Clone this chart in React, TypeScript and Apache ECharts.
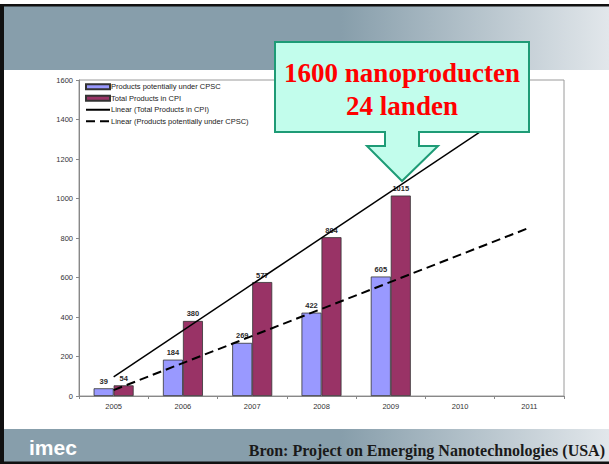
import React, { useEffect, useRef } from "react";
import * as echarts from "echarts";

const years = ["2005", "2006", "2007", "2008", "2009", "2010", "2011"];
const cpscValues = [39, 184, 269, 422, 605, null, null];
const cpiValues = [54, 380, 577, 804, 1015, null, null];
// trend line end points (2005 and 2011)
const trendCpi: [string, number][] = [["2005", 97], ["2011", 1504]];
const trendCpsc: [string, number][] = [["2005", 30], ["2011", 852]];
const yTicks = { min: 0, max: 1600, interval: 200 };
const legendNames = [
  "Products potentially under CPSC",
  "Total Products in CPI",
  "Linear (Total Products in CPI)",
  "Linear (Products potentially under CPSC)",
];
const calloutLines = ["1600 nanoproducten", "24 landen"];
const footerText = "Bron: Project on Emerging Nanotechnologies (USA)";

export default function App() {
  const ref = useRef<HTMLDivElement>(null);
  useEffect(() => {
    if (!ref.current) return;
    const chart = echarts.init(ref.current, null, { renderer: "svg" });
    const band = () =>
      new echarts.graphic.LinearGradient(0, 0, 1, 0, [
        { offset: 0, color: "#879EAB" },
        { offset: 0.56, color: "#879EAB" },
        { offset: 1, color: "#E2E7EB" },
      ]);
    const labelStyle = {
      show: true,
      position: "top" as const,
      distance: 3,
      fontSize: 7.5,
      fontWeight: "bold" as const,
      color: "#2a2a2a",
      fontFamily: "Liberation Sans, Arial, sans-serif",
    };
    const hiddenSymbol = { color: "transparent", borderColor: "transparent", borderWidth: 0, opacity: 0 };
    chart.setOption({
      animation: false,
      backgroundColor: "#fff",
      grid: {
        left: 79,
        right: 45,
        top: 80,
        bottom: 68,
        show: true,
        borderColor: "#9a9a9a",
        borderWidth: 1,
        backgroundColor: "transparent",
      },
      legend: {
        data: [
          { name: legendNames[0], icon: "rect" },
          { name: legendNames[1], icon: "rect" },
          { name: legendNames[2], itemStyle: hiddenSymbol },
          { name: legendNames[3], itemStyle: hiddenSymbol },
        ],
        orient: "vertical",
        left: 85,
        top: 82,
        itemWidth: 24,
        itemHeight: 5,
        itemGap: 2,
        textStyle: {
          fontSize: 7.5,
          color: "#222",
          fontFamily: "Liberation Sans, Arial, sans-serif",
          padding: [0, 0, 0, -4],
          lineHeight: 9.5,
        },
        padding: 0,
      },
      xAxis: {
        type: "category",
        data: years,
        boundaryGap: true,
        axisLine: { lineStyle: { color: "#888" } },
        axisTick: { show: true, length: 3, lineStyle: { color: "#888" } },
        axisLabel: {
          fontSize: 7.5,
          color: "#333",
          margin: 6,
          fontFamily: "Liberation Sans, Arial, sans-serif",
        },
      },
      yAxis: {
        type: "value",
        min: yTicks.min,
        max: yTicks.max,
        interval: yTicks.interval,
        splitLine: { show: false },
        axisLine: { show: true, lineStyle: { color: "#888" } },
        axisTick: { show: true, length: 3, lineStyle: { color: "#888" } },
        axisLabel: {
          fontSize: 7.5,
          color: "#333",
          margin: 6,
          formatter: (v: number) => String(v),
          fontFamily: "Liberation Sans, Arial, sans-serif",
        },
      },
      series: [
        {
          name: legendNames[0],
          type: "bar",
          data: cpscValues,
          barWidth: 20,
          barGap: "0%",
          itemStyle: { color: "#9999FF", borderColor: "#333", borderWidth: 0.8 },
          label: labelStyle,
          z: 2,
        },
        {
          name: legendNames[1],
          type: "bar",
          data: cpiValues,
          barWidth: 20,
          barGap: "0%",
          itemStyle: { color: "#993366", borderColor: "#333", borderWidth: 0.8 },
          label: labelStyle,
          z: 2,
        },
        {
          name: legendNames[2],
          type: "line",
          data: trendCpi,
          symbol: "none",
          lineStyle: { color: "#000", width: 1.5, type: "solid" },
          itemStyle: { color: "#000" },
          z: 5,
        },
        {
          name: legendNames[3],
          type: "line",
          data: trendCpsc,
          symbol: "none",
          lineStyle: { color: "#000", width: 2, type: [9, 5] },
          itemStyle: { color: "#000" },
          z: 5,
        },
      ],
      graphic: [
        { type: "rect", shape: { x: 0, y: 6, width: 609, height: 64 }, style: { fill: band() }, z: 1 },
        { type: "rect", shape: { x: 0, y: 429, width: 609, height: 33 }, style: { fill: band() }, z: 1 },
        { type: "rect", shape: { x: 0, y: 4, width: 609, height: 2.5 }, style: { fill: "#111" }, z: 2 },
        { type: "rect", shape: { x: 0, y: 4, width: 4, height: 460 }, style: { fill: "#111" }, z: 2 },
        { type: "rect", shape: { x: 0, y: 461.5, width: 609, height: 3 }, style: { fill: "#111" }, z: 2 },
        {
          type: "text",
          x: 29,
          y: 447,
          style: {
            text: "imec",
            fill: "#fff",
            fontSize: 21,
            fontWeight: "bold",
            fontFamily: "Liberation Sans, Arial, sans-serif",
            textVerticalAlign: "middle",
          },
          z: 3,
        },
        {
          type: "text",
          x: 605,
          y: 450,
          style: {
            text: footerText,
            fill: "#1a1a1a",
            fontSize: 16,
            fontWeight: "bold",
            fontFamily: "Liberation Serif, Times New Roman, serif",
            textAlign: "right",
            textVerticalAlign: "middle",
          },
          z: 3,
        },
        {
          type: "polygon",
          shape: {
            points: [
              [275, 42], [529, 42], [529, 132], [419, 132], [419, 146], [438, 146],
              [402, 181], [367, 146], [385, 146], [385, 132], [275, 132],
            ],
          },
          style: { fill: "#C2FDEC", stroke: "#1E9B76", lineWidth: 2 },
          z: 50,
        },
        {
          type: "text",
          x: 402,
          y: 73,
          style: {
            text: calloutLines[0],
            fill: "#FF0000",
            fontSize: 27,
            fontWeight: "bold",
            fontFamily: "Liberation Serif, Times New Roman, serif",
            textAlign: "center",
            textVerticalAlign: "middle",
          },
          z: 51,
        },
        {
          type: "text",
          x: 402,
          y: 106,
          style: {
            text: calloutLines[1],
            fill: "#FF0000",
            fontSize: 27,
            fontWeight: "bold",
            fontFamily: "Liberation Serif, Times New Roman, serif",
            textAlign: "center",
            textVerticalAlign: "middle",
          },
          z: 51,
        },
      ],
    });
    return () => chart.dispose();
  }, []);
  return (
    <div
      ref={ref}
      style={{ position: "fixed", left: 0, top: 0, width: 609, height: 464 }}
    />
  );
}
